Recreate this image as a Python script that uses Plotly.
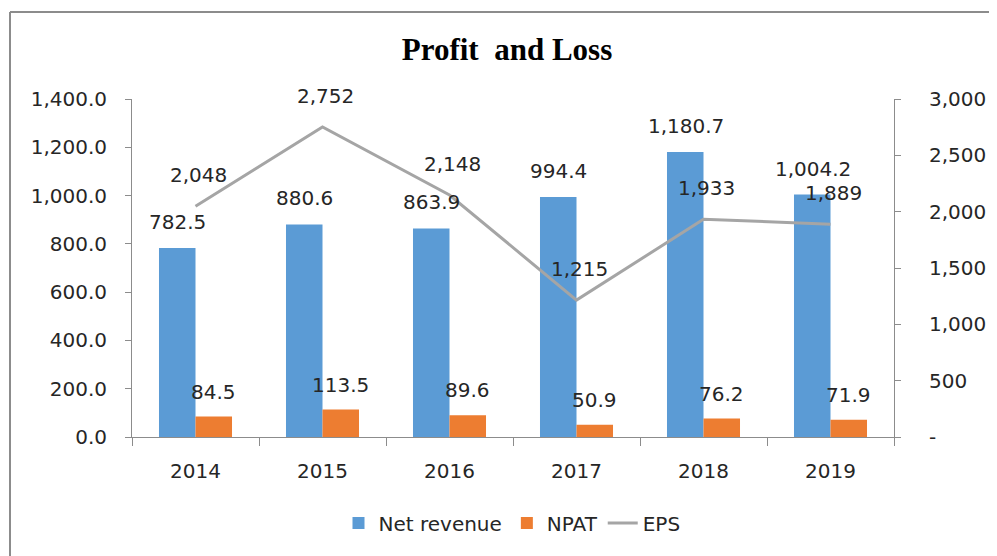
import plotly.graph_objects as go

years = ["2014", "2015", "2016", "2017", "2018", "2019"]
net_revenue = [782.5, 880.6, 863.9, 994.4, 1180.7, 1004.2]
npat = [84.5, 113.5, 89.6, 50.9, 76.2, 71.9]
eps = [2048, 2752, 2148, 1215, 1933, 1889]

left_ticks = [0, 200, 400, 600, 800, 1000, 1200, 1400]
right_ticks = [0, 500, 1000, 1500, 2000, 2500, 3000]
right_ticktext = ["-", "500", "1,000", "1,500", "2,000", "2,500", "3,000"]

BLUE = "#5B9BD5"
ORANGE = "#ED7D31"
GRAY = "#A5A5A5"
TXT = "#262626"
FONT = "DejaVu Sans"

OFF = 8  # browser body margin
W, H = 997 - OFF, 556 - OFF
L, R, T, B = 132 - OFF, 894 - OFF, 99 - OFF, 437 - OFF

fig = go.Figure()
fig.add_trace(go.Bar(x=years, y=net_revenue, name="Net revenue", marker_color=BLUE,
                     marker_line_width=0))
fig.add_trace(go.Bar(x=years, y=npat, name="NPAT", marker_color=ORANGE,
                     marker_line_width=0))
fig.add_trace(go.Scatter(x=years, y=eps, name="EPS", mode="lines",
                         line=dict(color=GRAY, width=3), yaxis="y2"))

ann = []
for i, v in enumerate(net_revenue):
    ann.append(dict(x=i, y=v, xref="x", yref="y", text=f"{v:,.1f}", showarrow=False,
                    xshift=-18, yshift=26, font=dict(family=FONT, size=20, color=TXT)))
for i, v in enumerate(npat):
    ann.append(dict(x=i, y=v, xref="x", yref="y", text=f"{v:,.1f}", showarrow=False,
                    xshift=18, yshift=25, font=dict(family=FONT, size=20, color=TXT)))
for i, v in enumerate(eps):
    ann.append(dict(x=i, y=v, xref="x", yref="y2", text=f"{v:,.0f}", showarrow=False,
                    xshift=3, yshift=31, font=dict(family=FONT, size=20, color=TXT)))

pw = R - L
ph = B - T
def px(x):
    return (x - OFF - L) / pw
def py(y):
    return (B - (y - OFF)) / ph

shapes = [
    dict(type="line", xref="paper", yref="paper", x0=px(10), x1=px(1010), y0=py(12), y1=py(12),
         line=dict(color="#8C8C8C", width=2)),
    dict(type="line", xref="paper", yref="paper", x0=px(10), x1=px(10), y0=py(12), y1=py(570),
         line=dict(color="#8C8C8C", width=2)),
]

fig.update_layout(
    width=W, height=H,
    margin=dict(l=L, r=W - R, t=T, b=H - B, autoexpand=False),
    paper_bgcolor="white", plot_bgcolor="white",
    barmode="group", bargap=0.425, bargroupgap=0,
    title=dict(text="<b>Profit  and Loss</b>", x=(507 - OFF) / W, xref="container",
               xanchor="center", y=1 - (49 - OFF) / H, yref="container", yanchor="middle",
               font=dict(family="Liberation Serif", size=31, color="#000000")),
    font=dict(family=FONT, size=20, color=TXT),
    showlegend=True,
    legend=dict(orientation="h", x=px(512), xanchor="center", y=py(523), yanchor="middle",
                font=dict(family=FONT, size=20, color=TXT), bgcolor="rgba(0,0,0,0)",
                traceorder="normal"),
    xaxis=dict(type="category", showline=True, linecolor="#8C8C8C", linewidth=1,
               ticks="outside", ticklen=8, tickcolor="#8C8C8C", tickson="boundaries",
               showgrid=False, ticklabelstandoff=16, tickfont=dict(size=20, color=TXT)),
    yaxis=dict(range=[0, 1400], tickvals=left_ticks, tickformat=",.1f", showline=True,
               linecolor="#8C8C8C", linewidth=1, ticks="outside", ticklen=6,
               tickcolor="#8C8C8C", showgrid=False, zeroline=False, ticklabelstandoff=14,
               tickfont=dict(size=20, color=TXT)),
    yaxis2=dict(range=[0, 3000], tickvals=right_ticks, ticktext=right_ticktext,
                overlaying="y", side="right", showline=True, linecolor="#8C8C8C",
                linewidth=1, ticks="outside", ticklen=6, tickcolor="#8C8C8C",
                showgrid=False, zeroline=False, ticklabelstandoff=24,
                tickfont=dict(size=20, color=TXT)),
    annotations=ann,
    shapes=shapes,
)

fig.write_html("out.html")
